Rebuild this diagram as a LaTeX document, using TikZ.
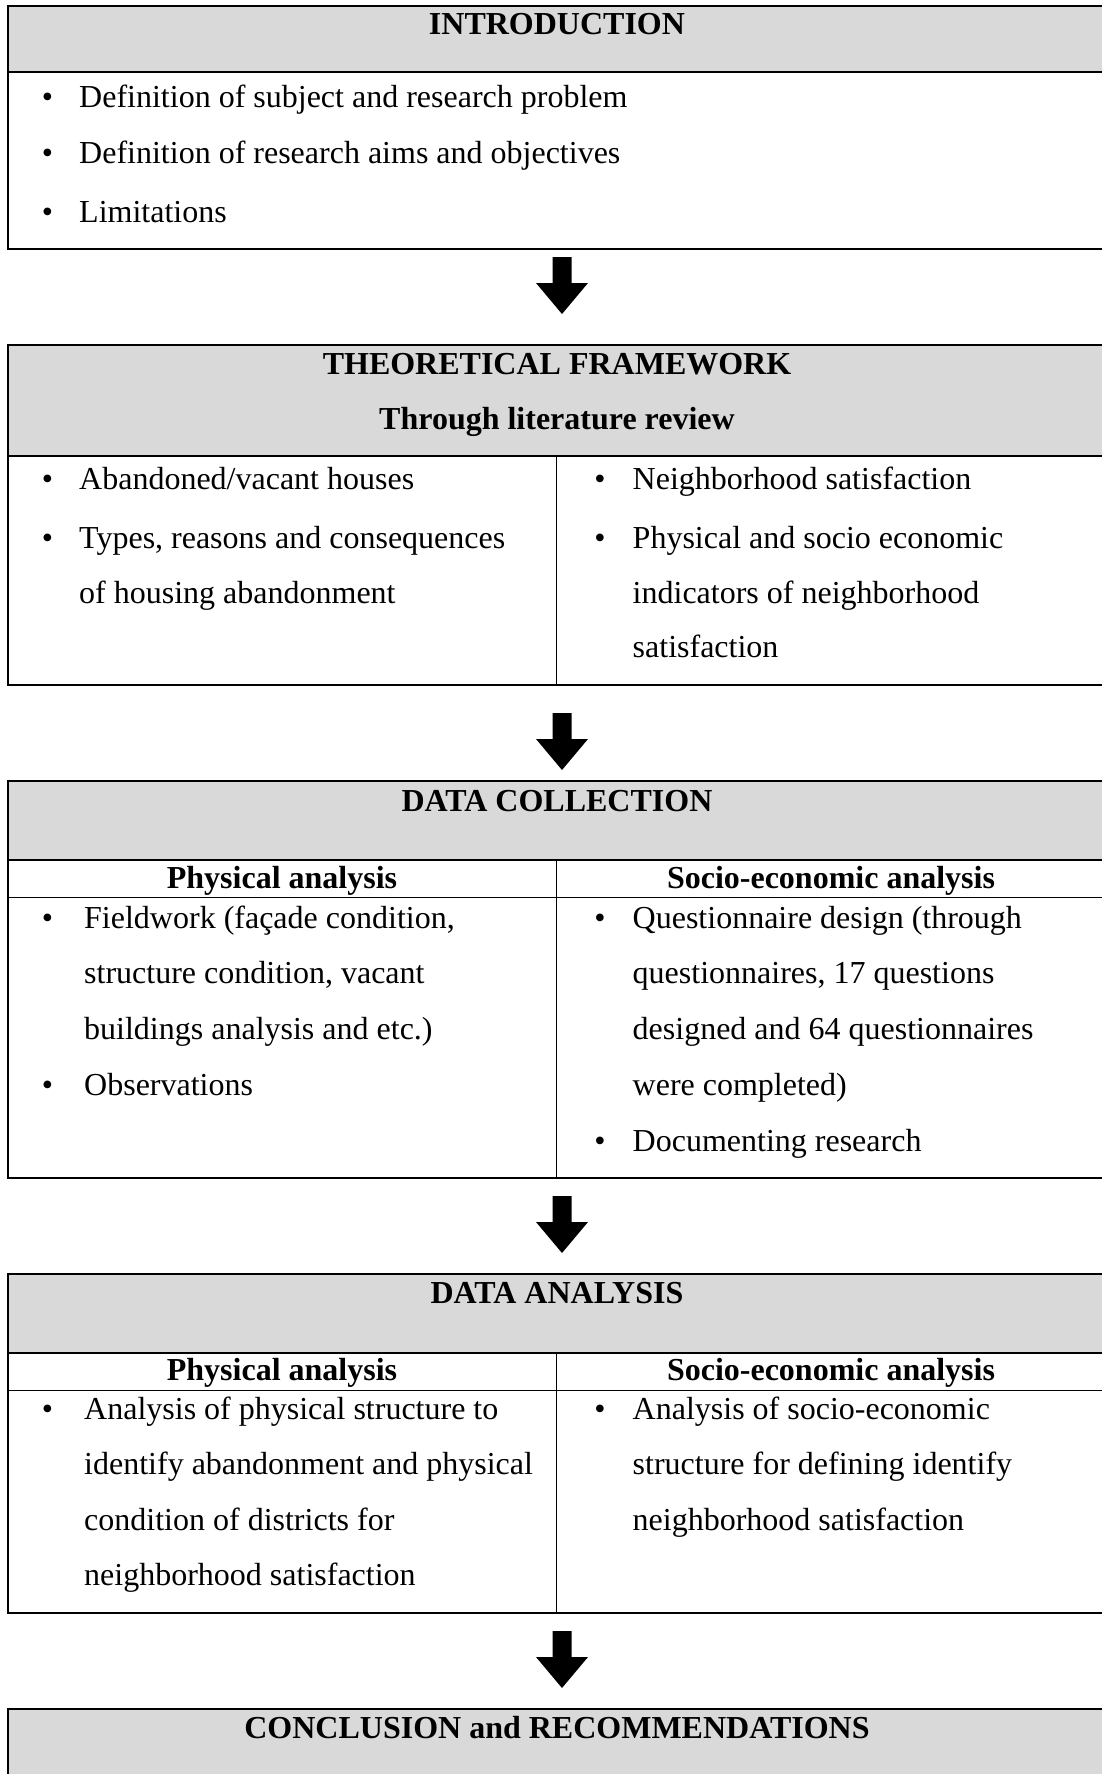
\documentclass[tikz,border=0pt]{standalone}
\usepackage{fontspec}
\setmainfont{Liberation Serif}
\usetikzlibrary{calc}
\definecolor{hdrgray}{HTML}{D9D9D9}
\begin{document}
\begin{tikzpicture}[x=1pt,y=-1pt,
  box/.style={draw=black,line width=1.8pt,inner sep=0pt,outer sep=0pt,anchor=north west,minimum width=1098pt},
  hdr/.style={box,fill=hdrgray},
  ttl/.style={font=\fontsize{32}{40}\selectfont\bfseries,anchor=base,inner sep=0pt},
  txt/.style={font=\fontsize{32}{40}\selectfont,anchor=base west,inner sep=0pt},
  bul/.style={font=\fontsize{32}{40}\selectfont,anchor=base,inner sep=0pt},
  divider/.style={line width=1pt},
  pics/blockarrow/.style={code={\fill (-9.5,0) -- (9.5,0) -- (9.5,26) -- (26,26) -- (0,57) -- (-26,26) -- (-9.5,26) -- cycle;}}
]
\useasboundingbox (0,0) rectangle (1101,1774);

% ---------- Box 1: INTRODUCTION ----------
\node[box,minimum height=243pt] (b1) at (8,6) {};
\node[hdr,minimum height=66pt] (h1) at (8,6) {};
\node[ttl] (t1) at (557,35) {INTRODUCTION};
\node[bul] (i1b) at (47.5,107.5) {•};
\node[txt] (i1) at (79,107.5) {Definition of subject and research problem};
\node[bul] (i2b) at (47.5,164) {•};
\node[txt] (i2) at (79,164) {Definition of research aims and objectives};
\node[bul] (i3b) at (47.5,222) {•};
\node[txt] (i3) at (79,222) {Limitations};

% ---------- Box 2: THEORETICAL FRAMEWORK ----------
\node[box,minimum height=340pt] (b2) at (8,345) {};
\node[hdr,minimum height=111pt] (h2) at (8,345) {};
\draw[divider] (556,456) -- (556,685);
\node[ttl] (t2) at (557,374) {THEORETICAL FRAMEWORK};
\node[ttl] (t2b) at (557,429.5) {Through literature review};
\node[bul] (f1b) at (47.5,489) {•};
\node[txt] (f1) at (79,489) {Abandoned/vacant houses};
\node[bul] (f2b) at (47.5,548) {•};
\node[txt] (f2) at (79,548) {Types, reasons and consequences};
\node[txt] (f3) at (79,603) {of housing abandonment};
\node[bul] (g1b) at (600,489) {•};
\node[txt] (g1) at (632.5,489) {Neighborhood satisfaction};
\node[bul] (g2b) at (600,548) {•};
\node[txt] (g2) at (632.5,548) {Physical and socio economic};
\node[txt] (g3) at (632.5,603) {indicators of neighborhood};
\node[txt] (g4) at (632.5,657.5) {satisfaction};

% ---------- Box 3: DATA COLLECTION ----------
\node[box,minimum height=397pt] (b3) at (8,781) {};
\node[hdr,minimum height=79pt] (h3) at (8,781) {};
\draw[divider] (8,897) -- (1106,897);
\draw[divider] (556,860) -- (556,1178);
\node[ttl] (t3) at (557,811) {DATA COLLECTION};
\node[ttl] (s3a) at (282,888) {Physical analysis};
\node[ttl] (s3b) at (831,888) {Socio-economic analysis};
\node[bul] (c1b) at (47.5,928) {•};
\node[txt] (c1) at (84,928) {Fieldwork (façade condition,};
\node[txt] (c2) at (84,983) {structure condition, vacant};
\node[txt] (c3) at (84,1039) {buildings analysis and etc.)};
\node[bul] (c4b) at (47.5,1095.5) {•};
\node[txt] (c4) at (84,1095.5) {Observations};
\node[bul] (d1b) at (600,928) {•};
\node[txt] (d1) at (632.5,928) {Questionnaire design (through};
\node[txt] (d2) at (632.5,983) {questionnaires, 17 questions};
\node[txt] (d3) at (632.5,1039) {designed and 64 questionnaires};
\node[txt] (d4) at (632.5,1095.5) {were completed)};
\node[bul] (d5b) at (600,1151) {•};
\node[txt] (d5) at (632.5,1151) {Documenting research};

% ---------- Box 4: DATA ANALYSIS ----------
\node[box,minimum height=339pt] (b4) at (8,1274) {};
\node[hdr,minimum height=79pt] (h4) at (8,1274) {};
\draw[divider] (8,1390) -- (1106,1390);
\draw[divider] (556,1353) -- (556,1613);
\node[ttl] (t4) at (557,1303.5) {DATA ANALYSIS};
\node[ttl] (s4a) at (282,1380.5) {Physical analysis};
\node[ttl] (s4b) at (831,1380.5) {Socio-economic analysis};
\node[bul] (e1b) at (47.5,1419) {•};
\node[txt] (e1) at (84,1419) {Analysis of physical structure to};
\node[txt] (e2) at (84,1474.5) {identify abandonment and physical};
\node[txt] (e3) at (84,1530) {condition of districts for};
\node[txt] (e4) at (84,1585.5) {neighborhood satisfaction};
\node[bul] (k1b) at (600,1419) {•};
\node[txt] (k1) at (632.5,1419) {Analysis of socio-economic};
\node[txt] (k2) at (632.5,1474.5) {structure for defining identify};
\node[txt] (k3) at (632.5,1530) {neighborhood satisfaction};

% ---------- Box 5: CONCLUSION ----------
\node[hdr,minimum height=100pt] (b5) at (8,1709) {};
\node[ttl] (t5) at (557,1738) {CONCLUSION and RECOMMENDATIONS};

% ---------- Arrows ----------
\pic at ($(b1.south)+(5,8)$) {blockarrow};
\pic at ($(b2.south)+(5,28)$) {blockarrow};
\pic at ($(b3.south)+(5,18)$) {blockarrow};
\pic at ($(b4.south)+(5,18)$) {blockarrow};
\end{tikzpicture}
\end{document}
